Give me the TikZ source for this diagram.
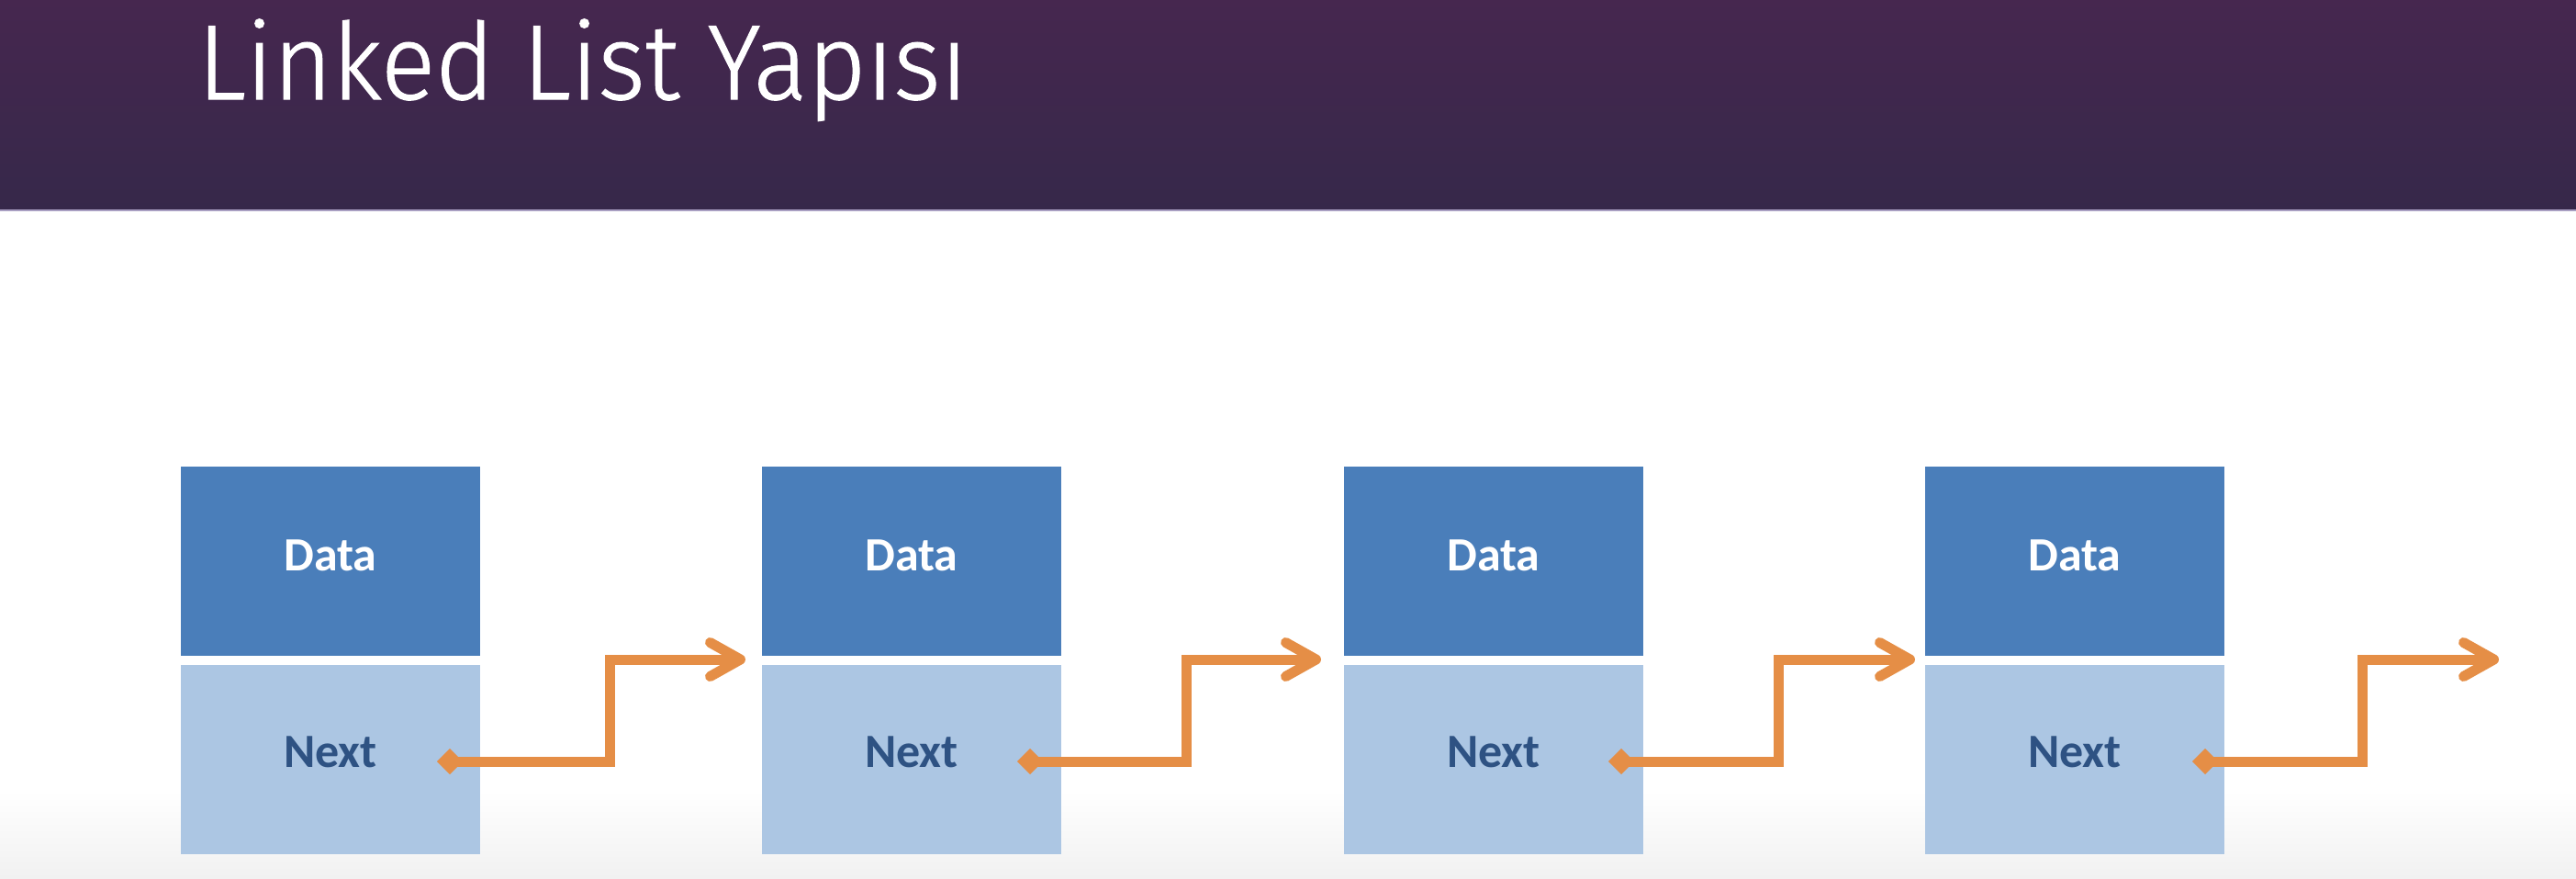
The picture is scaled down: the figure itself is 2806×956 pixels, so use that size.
\documentclass[tikz,border=0pt]{standalone}
\usepackage{fontspec}
\usetikzlibrary{arrows.meta}
\newfontfamily\titlefont[FakeStretch=0.95,FakeBold=1]{Fira Sans Light}
\newfontfamily\boxfont{Carlito}
\definecolor{hdrtop}{HTML}{46274F}
\definecolor{hdrbot}{HTML}{36284A}
\definecolor{hdrline}{HTML}{A99FC2}
\definecolor{dataC}{HTML}{4A7EBA}
\definecolor{nextC}{HTML}{ACC6E3}
\definecolor{nextT}{HTML}{2E5283}
\definecolor{linkC}{HTML}{E58E46}
\definecolor{floorC}{HTML}{F1F1F1}
\tikzset{
  databox/.style={fill=dataC, minimum width=326pt, minimum height=206pt, inner sep=0pt,
    text=white, font=\boxfont\bfseries\fontsize{52}{52}\selectfont,
    text height=34pt, text depth=13pt},
  nextbox/.style={databox, fill=nextC, text=nextT, text depth=17pt},
  link/.style={draw=linkC, line width=11pt,
    {Diamond[length=28pt,width=28pt,line width=0.1pt]}-{Straight Barb[length=33pt,width=37pt,round]}},
  titletext/.style={anchor=base west, text=white, inner sep=0pt,
    font=\titlefont\fontsize{116}{116}\selectfont}
}
\begin{document}
\begin{tikzpicture}[x=1pt,y=-1pt]
\useasboundingbox (0,0) rectangle (2806,956);
\fill[white] (0,0) rectangle (2806,956);
\shade[top color=white, bottom color=floorC] (0,860) rectangle (2806,956);
\shade[top color=hdrtop, bottom color=hdrbot] (0,0) rectangle (2806,228);
\fill[hdrline] (0,228) rectangle (2806,230);
\node[titletext] (title) at (215,108) {Linked List Yapısı};

\node[databox] (d1) at (360,611) {Data};
\node[nextbox] (n1) at (360,827) {Next};
\node[databox] (d2) at (993,611) {Data};
\node[nextbox] (n2) at (993,827) {Next};
\node[databox] (d3) at (1627,611) {Data};
\node[nextbox] (n3) at (1627,827) {Next};
\node[databox] (d4) at (2260,611) {Data};
\node[nextbox] (n4) at (2260,827) {Next};

\coordinate (s1) at (476,829);  \coordinate (v1) at (664,718);  \coordinate (t1) at (812,718);
\coordinate (s2) at (1108,829); \coordinate (v2) at (1292,718); \coordinate (t2) at (1439,718);
\coordinate (s3) at (1752,829); \coordinate (v3) at (1937,718); \coordinate (t3) at (2086,718);
\coordinate (s4) at (2388,829); \coordinate (v4) at (2573,718); \coordinate (t4) at (2722,718);

\draw[link] (s1) -- (s1 -| v1) |- (t1);
\draw[link] (s2) -- (s2 -| v2) |- (t2);
\draw[link] (s3) -- (s3 -| v3) |- (t3);
\draw[link] (s4) -- (s4 -| v4) |- (t4);
\end{tikzpicture}
\end{document}
